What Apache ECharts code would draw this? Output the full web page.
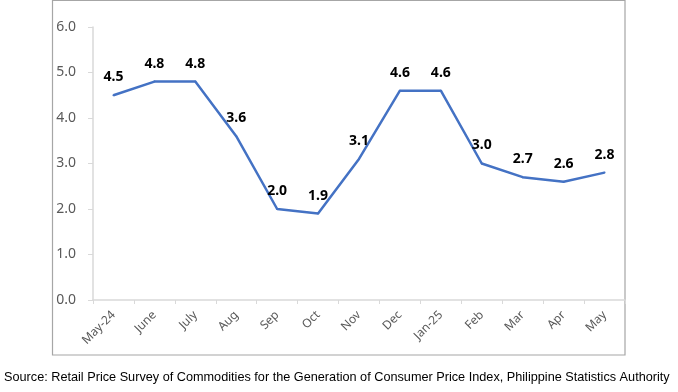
<!DOCTYPE html>
<html>
<head>
<meta charset="utf-8">
<script src="https://cdn.jsdelivr.net/npm/echarts@6/dist/echarts.min.js"></script>
<style>
html,body{margin:0;padding:0;background:#fff;}
#c{width:678px;height:392px;}
</style>
</head>
<body>
<div id="c"></div>
<script>
const categories = ['May-24','June','July','Aug','Sep','Oct','Nov','Dec','Jan-25','Feb','Mar','Apr','May'];
const values = [4.5, 4.8, 4.8, 3.6, 2.0, 1.9, 3.1, 4.6, 4.6, 3.0, 2.7, 2.6, 2.8];
const yTicks = [0, 1, 2, 3, 4, 5, 6];
const sourceText = 'Source: Retail Price Survey of Commodities for the Generation of Consumer Price Index, Philippine Statistics Authority';

const chart = echarts.init(document.getElementById('c'), null, {renderer: 'canvas'});
chart.setOption({
  animation: false,
  backgroundColor: '#fff',
  grid: {left: 93, right: 53, top: 27, bottom: 92},
  xAxis: {
    type: 'category',
    data: categories,
    boundaryGap: true,
    axisLine: {show: true, lineStyle: {color: '#d9d9d9', width: 1.5}},
    axisTick: {show: true, length: 4, lineStyle: {color: '#d9d9d9'}},
    axisLabel: {rotate: 45, margin: 13, color: '#595959', fontSize: 12, fontFamily: 'Noto Sans', interval: 0}
  },
  yAxis: {
    type: 'value',
    min: yTicks[0],
    max: yTicks[yTicks.length - 1],
    interval: 1,
    splitLine: {show: false},
    axisLine: {show: true, lineStyle: {color: '#d9d9d9', width: 1.5}},
    axisTick: {show: true, length: 5, lineStyle: {color: '#d9d9d9'}},
    axisLabel: {color: '#595959', fontSize: 14, fontFamily: 'Noto Sans', margin: 17,
      formatter: v => v.toFixed(1)}
  },
  series: [{
    type: 'line',
    data: values,
    symbol: 'circle',
    symbolSize: 2,
    showSymbol: true,
    itemStyle: {color: '#4472C4'},
    lineStyle: {color: '#4472C4', width: 2.5},
    label: {
      show: true, position: 'top', distance: 10,
      color: '#000', fontWeight: 'bold', fontSize: 14, fontFamily: 'Noto Sans',
      formatter: p => p.value.toFixed(1)
    }
  }],
  graphic: [
    {type: 'rect', shape: {x: 52.5, y: 0.5, width: 572.5, height: 354.5},
     style: {fill: null, stroke: '#a6a6a6', lineWidth: 1.2}, silent: true},
    {type: 'text', left: 4, top: 371,
     style: {text: sourceText, fill: '#000', fontSize: 12.7, fontFamily: 'Liberation Sans'}}
  ]
});
</script>
</body>
</html>
